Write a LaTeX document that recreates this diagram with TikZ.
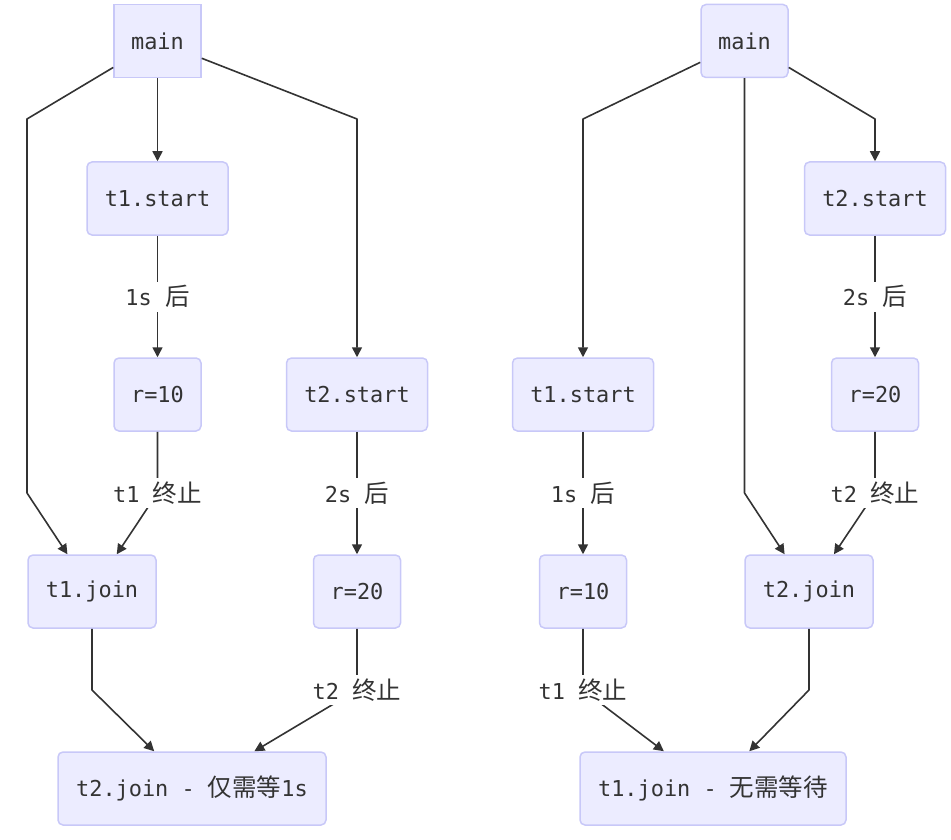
\documentclass[tikz,border=0pt]{standalone}
\usepackage{fontspec}
\setmonofont{DejaVu Sans Mono}
\newfontfamily\cjkfont{Noto Sans CJK SC}
\usetikzlibrary{arrows.meta}
\definecolor{nodefill}{HTML}{ECECFF}
\definecolor{nodeline}{HTML}{C8C8F8}
\definecolor{ink}{HTML}{333333}
\newcommand\zh[1]{{\cjkfont\fontsize{24.5}{28}\selectfont #1}}
\tikzset{
  box/.style={draw=nodeline, fill=nodefill, line width=1.5pt, rounded corners=5pt,
    minimum height=73pt, inner xsep=0pt, text=ink,
    font=\ttfamily\fontsize{21.9}{26}\selectfont},
  conn/.style={draw=ink, line width=1.6pt, line join=round,
    -{Triangle[length=10pt,width=10pt]}},
  lbl/.style={fill=white, text=ink, inner xsep=1pt, inner ysep=0pt,
    minimum height=30pt, font=\ttfamily\fontsize{21.9}{26}\selectfont}
}
\begin{document}
\begin{tikzpicture}[x=1pt,y=-1pt]
\useasboundingbox (0,0) rectangle (951,840);
% ---------- left diagram ----------
\node[box, sharp corners, minimum width=87pt] (lmain) at (157.5,41) {main};
\node[box, minimum width=141pt] (lt1s) at (157.5,198.5) {t1.start};
\node[box, minimum width=87pt] (lr10) at (157.5,394.5) {r=10};
\node[box, minimum width=141pt] (lt2s) at (357,394.5) {t2.start};
\node[box, minimum width=128pt] (ljoin1) at (92,591.5) {t1.join};
\node[box, minimum width=87pt] (lr20) at (357,591.5) {r=20};
\node[box, minimum width=268pt] (lfinal) at (192,788.5) {t2.join - \zh{仅需等}1s};

\coordinate (a1) at (27,119);
\coordinate (a2) at (27,493);
\coordinate (a3) at (357,119);
\coordinate (b1) at (157.5,493);
\coordinate (b2) at (92,690);
\coordinate (b3) at (357,690);

\draw[conn] (lmain) -- (a1) -- (a2) -- (ljoin1);
\draw[conn] (lmain) -- (lt1s);
\draw[conn] (lmain) -- (a3) -- (lt2s);
\draw[conn] (lt1s) -- node[lbl] {1s \zh{后}} (lr10);
\draw[conn] (lr10) -- (b1) node[lbl] {t1 \zh{终止}} -- (ljoin1);
\draw[conn] (lt2s) -- node[lbl] {2s \zh{后}} (lr20);
\draw[conn] (ljoin1) -- (b2) -- (lfinal);
\draw[conn] (lr20) -- (b3) node[lbl] {t2 \zh{终止}} -- (lfinal);

% ---------- right diagram ----------
\node[box, minimum width=87pt] (rmain) at (744.5,41) {main};
\node[box, minimum width=141pt] (rt2s) at (875,198.5) {t2.start};
\node[box, minimum width=141pt] (rt1s) at (583,394.5) {t1.start};
\node[box, minimum width=87pt] (rr20) at (875,394.5) {r=20};
\node[box, minimum width=87pt] (rr10) at (583,591.5) {r=10};
\node[box, minimum width=128pt] (rjoin2) at (809,591.5) {t2.join};
\node[box, minimum width=266pt] (rfinal) at (713,788.5) {t1.join - \zh{无需等待}};

\coordinate (c1) at (583,119);
\coordinate (c2) at (744.5,493);
\coordinate (c3) at (875,119);
\coordinate (c4) at (875,493);
\coordinate (c5) at (583,690);
\coordinate (c6) at (809,690);

\draw[conn] (rmain) -- (c1) -- (rt1s);
\draw[conn] (rmain) -- (c2) -- (rjoin2);
\draw[conn] (rmain) -- (c3) -- (rt2s);
\draw[conn] (rt2s) -- node[lbl] {2s \zh{后}} (rr20);
\draw[conn] (rt1s) -- node[lbl] {1s \zh{后}} (rr10);
\draw[conn] (rr20) -- (c4) node[lbl] {t2 \zh{终止}} -- (rjoin2);
\draw[conn] (rr10) -- (c5) node[lbl] {t1 \zh{终止}} -- (rfinal);
\draw[conn] (rjoin2) -- (c6) -- (rfinal);
\end{tikzpicture}
\end{document}
